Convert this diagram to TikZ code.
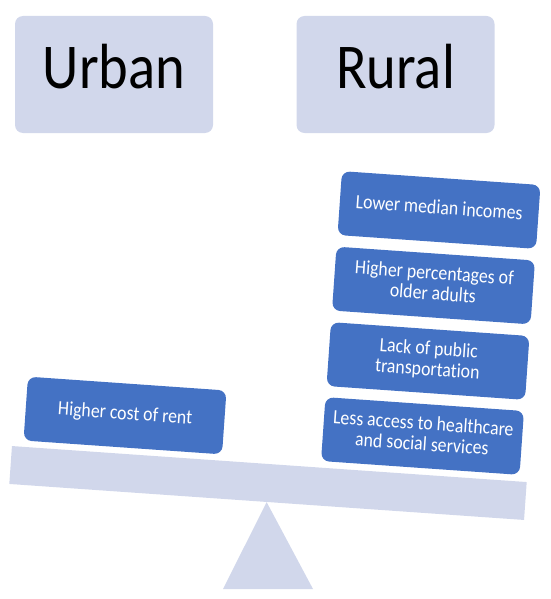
\documentclass[tikz,border=0pt]{standalone}
\usepackage{fontspec}
\setmainfont{Carlito}[Ligatures=NoCommon]
\usepackage{graphicx}
\usetikzlibrary{positioning}
\definecolor{paleblue}{HTML}{D1D7EB}
\definecolor{boxblue}{HTML}{4472C4}
\newcommand{\tallText}[1]{\scalebox{1}[1.13]{\begin{tabular}{@{}c@{}}#1\end{tabular}}}

\begin{document}
\begin{tikzpicture}[x=1pt, y=-1pt,
    header/.style={fill=paleblue, rounded corners=8pt, minimum width=198pt, minimum height=117pt, inner sep=0pt, font=\fontsize{56.5}{60}\selectfont},
    factor/.style={fill=boxblue, text=white, rounded corners=8pt, minimum width=199pt, minimum height=64pt, inner sep=0pt, rotate=-4, font=\fontsize{17.8}{18.3}\selectfont},
    beamstyle/.style={fill=paleblue, minimum width=516pt, minimum height=38pt, inner sep=0pt, rotate=-4}]

    \useasboundingbox (0,0) rectangle (550,599);

    % Headers
    \node (urban) [header] at (114,74.5) {\raisebox{2pt}{\tallText{Urban}}};
    \node (rural) [header] at (395.5,74.5) {\raisebox{2pt}{\tallText{Rural}}};

    % Seesaw
    \node (beam) [beamstyle] at (268,483) {};
    \fill[paleblue] (beam.south) -- (223,589) -- (313,589) -- cycle;

    % Weights
    \node (rent) [factor] at (125,415.5) {\tallText{Higher cost of rent}};
    \node (income) [factor] at (439,210) {\tallText{Lower median incomes}};
    \node (older) [factor] at (433.5,285.5) {\tallText{Higher percentages of\\older adults}};
    \node (transport) [factor] at (428,361) {\tallText{Lack of public\\transportation}};
    \node (services) [factor] at (422.5,436) {\tallText{Less access to healthcare\\and social services}};

\end{tikzpicture}
\end{document}
